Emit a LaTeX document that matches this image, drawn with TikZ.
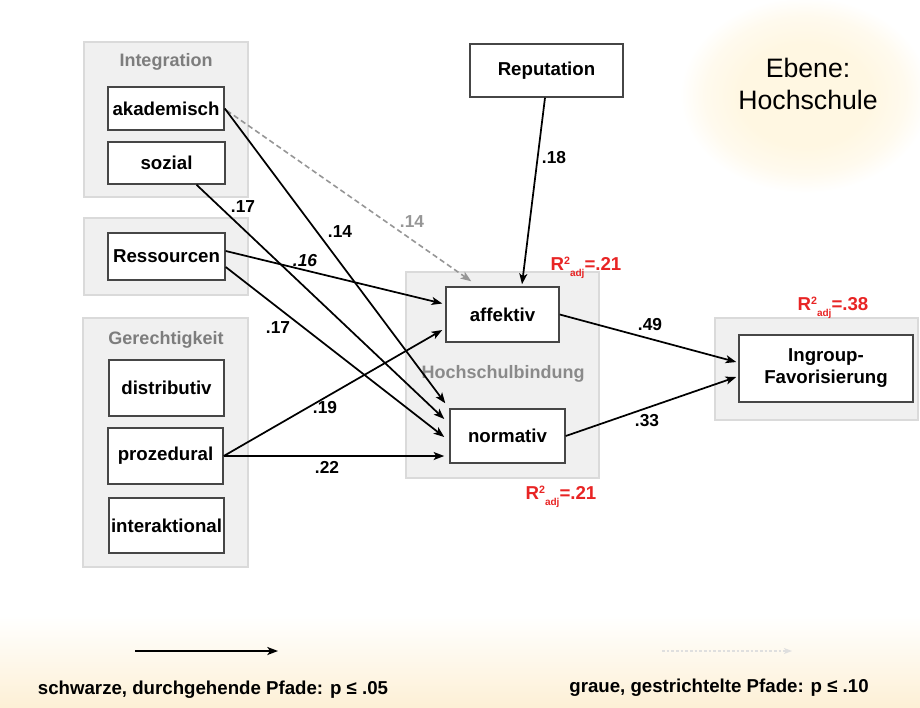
\documentclass[tikz,border=0pt]{standalone}
\usepackage{fontspec}
\setmainfont{Liberation Sans}
\usetikzlibrary{arrows.meta,calc}

\definecolor{groupfill}{RGB}{240,240,240}
\definecolor{groupline}{RGB}{218,218,218}
\definecolor{boxline}{RGB}{70,70,70}
\definecolor{rsq}{RGB}{232,36,36}
\definecolor{grouptext}{RGB}{125,125,125}
\definecolor{trendgray}{RGB}{150,150,150}
\definecolor{glowin}{RGB}{255,247,226}
\definecolor{glowmid}{RGB}{255,250,238}
\definecolor{bandbot}{RGB}{253,240,214}

% soft yellow glow behind the level label (25bp = edge of the shaded path)
\pgfdeclareradialshading{glow}{\pgfpoint{0bp}{0bp}}{%
  color(0bp)=(glowin); color(13bp)=(glowin); color(20bp)=(glowmid);
  color(25bp)=(white); color(50bp)=(white)}

\newcommand{\rsqadj}[1]{R\raisebox{0.32em}{\fontsize{8}{8}\selectfont 2}\raisebox{-0.3em}{\fontsize{7.5}{8}\selectfont adj}=#1}

\tikzset{
  groupbox/.style={draw=groupline, fill=groupfill, line width=0.8pt},
  varbox/.style={draw=boxline, fill=white, line width=1.1pt, inner sep=0pt,
    align=center, font=\fontsize{14}{16.5}\selectfont\bfseries},
  grouplabel/.style={font=\fontsize{13.5}{16}\selectfont\bfseries, text=grouptext},
  sigpath/.style={draw=black, line width=1.3pt,
    -{Stealth[length=8pt,width=6pt,inset=2pt]}},
  trendpath/.style={draw=trendgray, line width=1.2pt, dash pattern=on 4pt off 2.5pt,
    -{Stealth[length=8pt,width=6pt,inset=2pt]}},
  coef/.style={font=\fontsize{13}{15}\selectfont\bfseries},
  rsqlabel/.style={font=\fontsize{14}{16}\selectfont\bfseries, text=rsq},
  legendtext/.style={font=\fontsize{14}{16}\selectfont\bfseries}
}

\begin{document}
\begin{tikzpicture}[x=0.75pt,y=-0.75pt]
\useasboundingbox (0,0) rectangle (920,707);

% background: pale band along the bottom and glow at the top right
\shade[top color=white, bottom color=bandbot] (0,615) rectangle (920,707);
\path[shading=glow] (805,95) ellipse [x radius=125, y radius=98];
\node[font=\fontsize{20}{24}\selectfont, align=center] (level) at (808,84) {Ebene:\\Hochschule};

% grouping panels
\draw[groupbox] (84,42) rectangle (248,197);
\draw[groupbox] (84,218) rectangle (248,295);
\draw[groupbox] (83,318) rectangle (248,567);
\draw[groupbox] (406,272) rectangle (599,478);
\draw[groupbox] (715,318) rectangle (918,420);

\node[grouplabel] (lblInt) at (166,62) {Integration};
\node[grouplabel] (lblGer) at (166,340) {Gerechtigkeit};
\node[grouplabel, text=grouptext!90] (lblHsb) at (503,374) {Hochschulbindung};

% variables
\node[varbox, minimum width=87pt, minimum height=32.25pt] (akademisch) at (166,108.5) {akademisch};
\node[varbox, minimum width=87.75pt, minimum height=31.5pt] (sozial) at (166.5,163) {sozial};
\node[varbox, minimum width=87.75pt, minimum height=35.25pt] (ressourcen) at (166.5,256.5) {Ressourcen};
\node[varbox, minimum width=86.25pt, minimum height=42pt] (distributiv) at (166.5,388) {distributiv};
\node[varbox, minimum width=86.25pt, minimum height=42pt] (prozedural) at (165.5,456) {prozedural};
\node[varbox, minimum width=86.25pt, minimum height=41.25pt] (interaktional) at (166.5,525.5) {interaktional};
\node[varbox, minimum width=114.75pt, minimum height=39.75pt] (reputation) at (546.5,70.5) {Reputation};
\node[varbox, minimum width=84.75pt, minimum height=41.25pt] (affektiv) at (502.5,314.5) {affektiv};
\node[varbox, minimum width=86.25pt, minimum height=40.5pt] (normativ) at (507.5,436) {normativ};
\node[varbox, minimum width=130.5pt, minimum height=50.25pt] (ingroup) at (826,368.5) {Ingroup-\\Favorisierung};

% explained variance
\node[rsqlabel] (rsqAff) at (586,268) {\rsqadj{.21}};
\node[rsqlabel] (rsqNorm) at (561,497) {\rsqadj{.21}};
\node[rsqlabel] (rsqIng) at (833,308) {\rsqadj{.38}};

% paths
\draw[trendpath] ($(akademisch.east)+(2,2)$) -- ($(affektiv.north west)+(26,-5)$);
\draw[sigpath] (akademisch.east) -- ($(normativ.north west)+(-4,-5)$);
\draw[sigpath] ($(sozial.south)+(30,0)$) -- ($(normativ.west)+(-5,-17)$);
\draw[sigpath] ($(ressourcen.east)+(0,-5.5)$) -- ($(affektiv.west)+(-3,-11)$);
\draw[sigpath] ($(ressourcen.east)+(0,10.5)$) -- ($(normativ.west)+(-5,1)$);
\draw[sigpath] (prozedural.east) -- ($(affektiv.west)+(-3,15.5)$);
\draw[sigpath] (prozedural.east) -- ($(prozedural.east -| normativ.west)+(-5,0)$);
\draw[sigpath] ($(reputation.south)+(-1.5,0)$) -- ($(affektiv.north)+(19.5,-2)$);
\draw[sigpath] (affektiv.east) -- ($(ingroup.west)+(-2,-6.5)$);
\draw[sigpath] (normativ.east) -- ($(ingroup.west)+(-2,8.5)$);

% path coefficients
\node[coef] (cRep) at (554,158) {.18};
\node[coef] (cSoz) at (243,207) {.17};
\node[coef] (cAkaN) at (340,232) {.14};
\node[coef, text=trendgray] (cAkaA) at (412,222) {.14};
\node[coef, font=\fontsize{13}{15}\selectfont\bfseries\itshape] (cResA) at (305,261) {.16};
\node[coef] (cResN) at (278,328) {.17};
\node[coef] (cProA) at (325,408) {.19};
\node[coef] (cProN) at (327,467) {.22};
\node[coef] (cAff) at (650,325) {.49};
\node[coef] (cNorm) at (647,421) {.33};

% legend
\coordinate (legS1) at (135,651);
\coordinate (legS2) at (278,651);
\coordinate (legT1) at (662,651);
\coordinate (legT2) at (792,651);
\draw[sigpath] (legS1) -- (legS2);
\draw[draw=trendgray!30, line width=1pt, dash pattern=on 2pt off 1.5pt,
  -{Stealth[length=6pt,width=4.5pt,inset=1.5pt]}] (legT1) -- (legT2);
\node[legendtext] (legS) at (213,690) {schwarze, durchgehende Pfade: p ≤ .05};
\node[legendtext] (legT) at (719,688) {graue, gestrichtelte Pfade: p ≤ .10};
\end{tikzpicture}
\end{document}
